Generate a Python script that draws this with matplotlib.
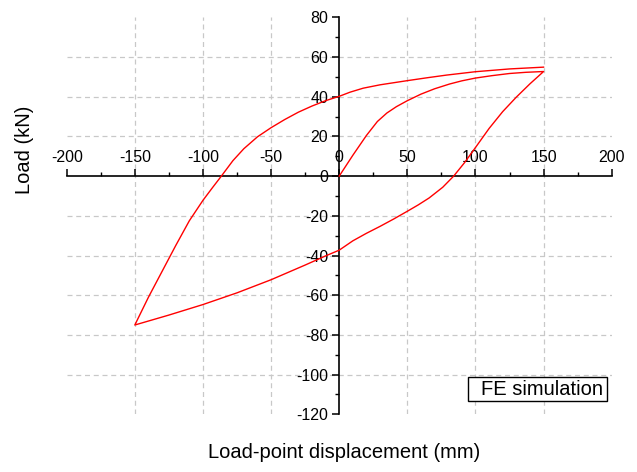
import numpy as np
import matplotlib.pyplot as plt
from matplotlib.patches import Rectangle

plt.rcParams['font.family'] = ['Liberation Sans', 'DejaVu Sans']
plt.rcParams['axes.unicode_minus'] = False

# initial loading 0 -> 150
load_x = [0, 10, 20, 28, 35, 42, 50, 60, 70, 81, 90, 100, 112, 125, 137, 150]
load_y = [0, 10.5, 20.5, 27.5, 31.8, 35, 38, 41.3, 44, 46.4, 48, 49.4, 50.6, 51.7, 52.3, 52.7]
# unloading branch 150 -> -150
down_x = [150, 140, 130, 120, 110, 100, 92, 84, 76, 66, 58, 50, 40, 30, 20, 10, 0,
          -10, -25, -50, -75, -100, -125, -150]
down_y = [52.7, 46.5, 39.8, 32.5, 24, 14.4, 6.8, 0, -5.6, -11, -14.5, -17.7, -21.6, -25.3, -28.8, -32.6, -37.3,
          -40.2, -44.8, -52.2, -58.8, -64.7, -70, -75]
# reloading branch -150 -> 150
up_x = [-150, -140, -130, -120, -110, -100, -93, -86.5, -78, -70, -60, -50, -40, -30, -20, -10,
        0, 8, 17.6, 30, 50, 65, 78.8, 100, 125, 150]
up_y = [-75, -61, -48, -35, -22.5, -12.2, -5.8, 0, 7.8, 13.8, 19.8, 24.4, 28.5, 32.2, 35.3, 38,
        40.2, 42.3, 44.3, 46, 48.1, 49.6, 50.9, 52.6, 54, 54.9]

xticks = [-200, -150, -100, -50, 0, 50, 100, 150, 200]
yticks = [-120, -100, -80, -60, -40, -20, 0, 20, 40, 60, 80]

fig = plt.figure(figsize=(6.37, 4.72), dpi=100)
ax = fig.add_axes([0.1047, 0.1222, 0.8556, 0.8411])

xs = load_x + down_x[1:] + up_x[1:]
ys = load_y + down_y[1:] + up_y[1:]
ax.plot(xs, ys, color='red', lw=1.0, zorder=3)

ax.set_xlim(-200, 200)
ax.set_ylim(-120, 80)

for v in xticks[1:-1]:
    if v != 0:
        ax.axvline(v, color='#c8c8c8', lw=0.9, ls=(0, (4, 3)), zorder=1)
for v in yticks[1:-1]:
    if v != 0:
        ax.axhline(v, color='#c8c8c8', lw=0.9, ls=(0, (4, 3)), zorder=1)

ax.spines['right'].set_visible(False)
ax.spines['bottom'].set_visible(False)
ax.spines['top'].set_position(('data', 0))
ax.spines['left'].set_position(('data', 0))
ax.xaxis.tick_top()
ax.set_xticks(xticks)
ax.set_yticks(yticks)
ax.set_xticks(np.arange(-175, 200, 50), minor=True)
ax.set_yticks(np.arange(-110, 80, 20), minor=True)
ax.tick_params(which='major', direction='out', length=5, width=1.1, labelsize=11.5, pad=3)
ax.tick_params(which='minor', direction='out', length=2.8, width=1.0)
for s in ax.spines.values():
    s.set_linewidth(1.2)
ax.patch.set_visible(False)

fig.text(0.540, 0.042, 'Load-point displacement (mm)', ha='center', va='center', fontsize=14.5)
fig.text(0.039, 0.682, 'Load (kN)', ha='center', va='center', rotation=90, fontsize=14.5)

fig.patches.append(Rectangle((0.7347, 0.1504), 0.2182, 0.0508, transform=fig.transFigure,
                             fc='white', ec='black', lw=1.0, zorder=5))
fig.text(0.9466, 0.1758, 'FE simulation', ha='right', va='center', fontsize=14.5, zorder=6)

fig.savefig('out.png', dpi=100)
